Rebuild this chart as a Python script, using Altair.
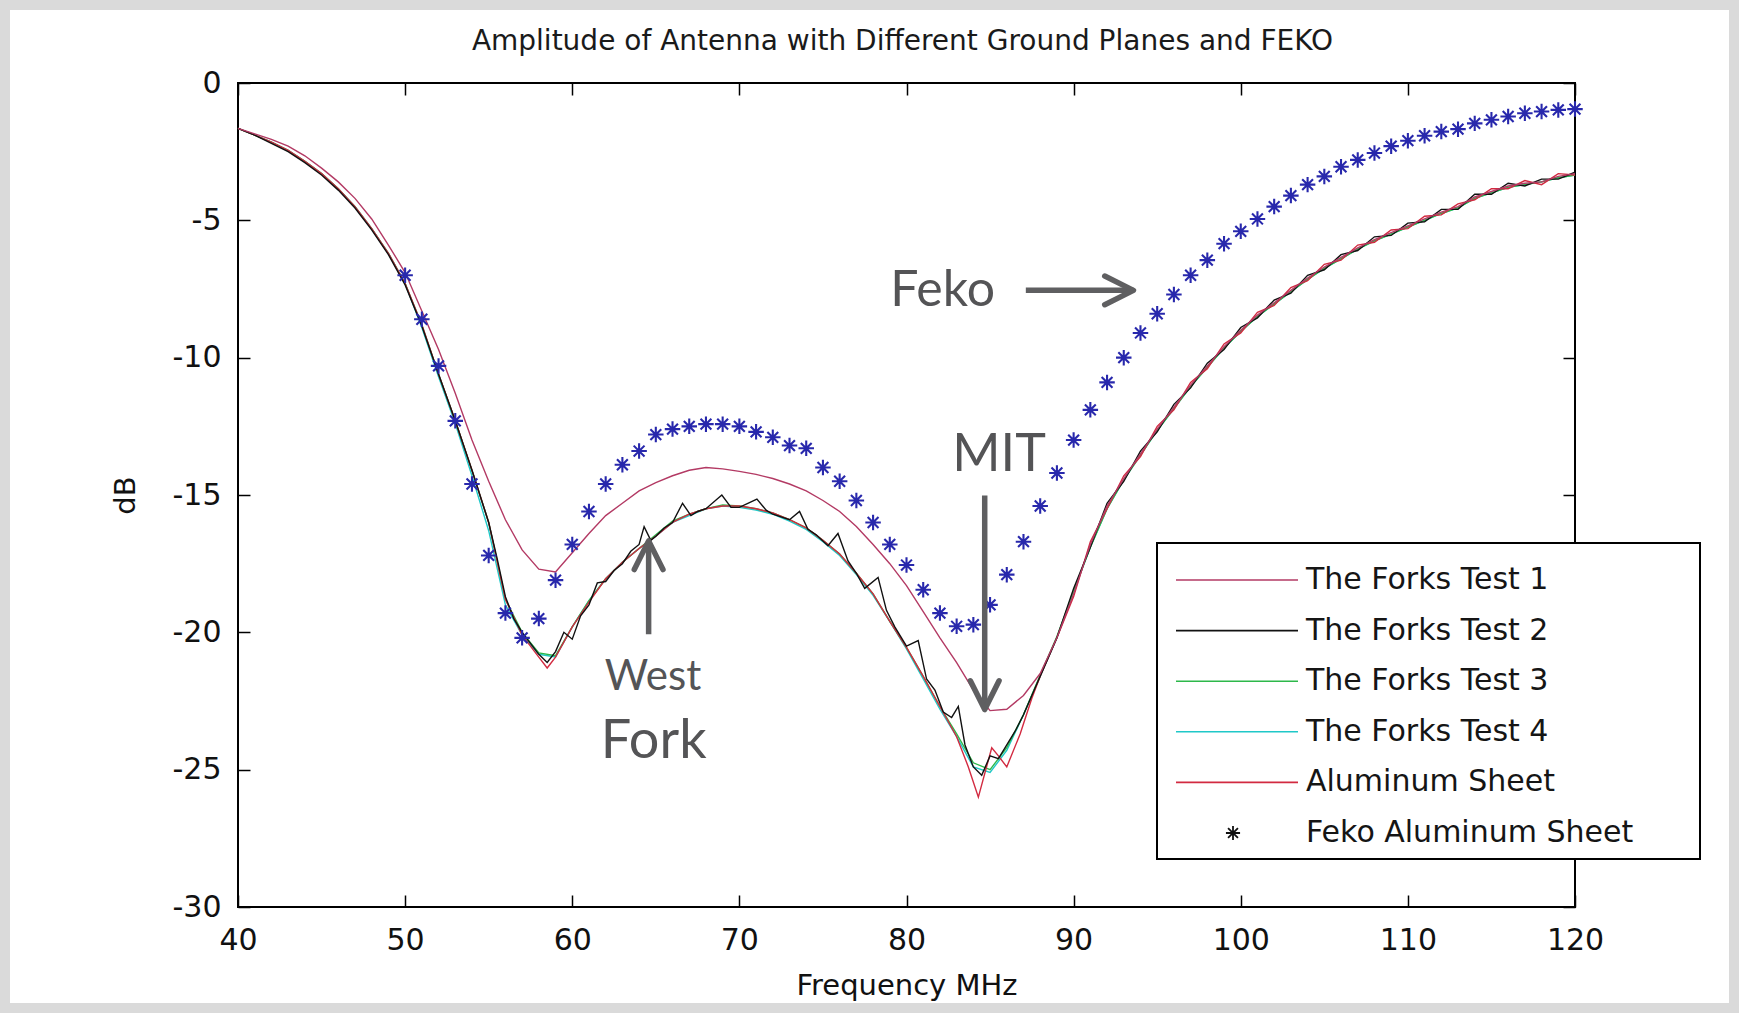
import altair as alt
import pandas as pd

# ---------------- data ----------------
freq = list(range(40, 121))

test1_db = [-1.65, -1.85, -2.05, -2.3, -2.65, -3.1, -3.6, -4.2, -4.95, -5.9,
            -6.9, -8.3, -9.7, -11.3, -13.0, -14.5, -15.9, -17.0, -17.7, -17.8,
            -17.1, -16.4, -15.75, -15.3, -14.85, -14.55, -14.3, -14.1, -14.0, -14.05,
            -14.14, -14.25, -14.4, -14.6, -14.85, -15.2, -15.6, -16.15, -16.8, -17.5,
            -18.3, -19.25, -20.2, -21.1, -22.1, -22.85, -22.8, -22.3, -21.5, -20.2,
            -18.6, -16.8, -15.4, -14.4, -13.5, -12.6, -11.8, -11.0, -10.3, -9.6,
            -9.0, -8.45, -8.0, -7.55, -7.1, -6.7, -6.35, -6.0, -5.7, -5.45,
            -5.2, -4.95, -4.7, -4.5, -4.15, -3.95, -3.75, -3.65, -3.6, -3.4, -3.3]

test3_db = [-1.65, -1.9, -2.15, -2.45, -2.85, -3.3, -3.85, -4.5, -5.3, -6.2,
            -7.3, -8.8, -10.6, -12.3, -14.1, -16.0, -18.8, -20.0, -20.75, -20.85,
            -19.8, -18.85, -18.05, -17.45, -16.95, -16.45, -15.95, -15.7, -15.5, -15.36,
            -15.4, -15.5, -15.65, -15.9, -16.2, -16.65, -17.15, -17.85, -18.6, -19.6,
            -20.55, -21.6, -22.7, -23.7, -24.75, -25.0, -24.2, -23.0, -21.55, -20.15,
            -18.5, -16.9, -15.5, -14.45, -13.55, -12.65, -11.85, -11.05, -10.35, -9.65,
            -9.05, -8.5, -8.05, -7.6, -7.15, -6.75, -6.4, -6.05, -5.75, -5.5,
            -5.25, -5.0, -4.75, -4.55, -4.2, -4.0, -3.8, -3.7, -3.6, -3.45, -3.35]

test4_db = [-1.65, -1.9, -2.15, -2.45, -2.85, -3.3, -3.85, -4.5, -5.3, -6.2,
            -7.3, -8.9, -10.7, -12.4, -14.3, -16.3, -19.0, -20.1, -20.8, -20.9,
            -19.8, -18.85, -18.05, -17.45, -16.95, -16.5, -16.0, -15.75, -15.5, -15.4,
            -15.45, -15.55, -15.7, -15.95, -16.25, -16.7, -17.2, -17.9, -18.65, -19.6,
            -20.6, -21.7, -22.8, -23.8, -24.9, -25.1, -24.3, -23.0, -21.6, -20.2,
            -18.5, -16.9, -15.5, -14.45, -13.55, -12.65, -11.85, -11.05, -10.35, -9.65,
            -9.05, -8.5, -8.05, -7.6, -7.15, -6.75, -6.4, -6.05, -5.75, -5.5,
            -5.25, -5.0, -4.75, -4.55, -4.2, -4.0, -3.8, -3.7, -3.6, -3.45, -3.35]

test2_freq = [40, 41, 42, 43, 44, 45, 46, 47, 48, 49, 50, 51, 52, 53, 54, 55, 55.5, 56, 56.5, 57,
              57.5, 58, 58.5, 59, 59.5, 60, 60.5, 61, 61.5, 62, 62.5, 63, 63.5, 64, 64.3, 64.7, 65,
              65.5, 66, 66.6, 67.1, 67.5, 68, 68.95, 69.5, 70, 71.05, 71.6, 72, 73, 73.6, 74.1, 74.6,
              75.3, 75.9, 76.5, 77, 77.5, 78.3, 78.8, 79.3, 80, 80.7, 81.2, 81.7, 82.2, 82.7, 83.1,
              83.5, 84, 84.5, 85, 85.5, 86, 86.5, 87, 87.5, 88, 88.5, 89,
              90, 91, 92, 93, 94, 95, 96, 97, 98, 99, 100, 101, 102, 103, 104, 105, 106, 107, 108,
              109, 110, 111, 112, 113, 114, 115, 116, 117, 118, 119, 120]
test2_db = [-1.65, -1.9, -2.2, -2.5, -2.9, -3.35, -3.9, -4.55, -5.35, -6.25, -7.35, -8.85, -10.6,
            -12.3, -14.1, -16.0, -17.3, -18.7, -19.5, -20.0,
            -20.4, -20.8, -21.1, -20.7, -20.0, -20.25, -19.4, -19.0, -18.2, -18.15, -17.75, -17.5,
            -17.05, -16.8, -16.15, -16.65, -16.5,
            -16.2, -16.0, -15.3, -15.75, -15.6, -15.5, -15.0, -15.45, -15.45, -15.15, -15.55, -15.7,
            -15.9, -15.6, -16.25, -16.45,
            -16.85, -16.4, -17.4, -17.85, -18.4, -18.0, -19.2, -19.8, -20.5, -20.3, -21.7, -22.1,
            -22.9, -23.1, -22.7,
            -24.1, -24.9, -25.2, -24.5, -24.6, -24.1, -23.6, -23.0, -22.3, -21.6, -20.9, -20.2,
            -18.4, -16.9, -15.3, -14.5, -13.4, -12.7, -11.7, -11.1, -10.2, -9.7, -8.9, -8.55, -7.9,
            -7.65, -7.0, -6.8, -6.25, -6.1, -5.6,
            -5.55, -5.1, -5.05, -4.6, -4.6, -4.05, -4.05, -3.65, -3.75, -3.5, -3.5, -3.25]

alu_freq = [40, 41, 42, 43, 44, 45, 46, 47, 48, 49, 50, 51, 52, 53, 54, 55, 56, 57, 58, 58.5, 59,
            60, 61, 62, 63, 64, 65, 66, 67, 68, 69, 70, 71, 72, 73, 74, 75, 76, 77, 78, 79, 80, 81,
            82, 83, 83.7, 84.3, 85.1, 85.5, 86, 86.8, 87.5, 88, 89,
            90, 91, 92, 93, 94, 95, 96, 97, 98, 99, 100, 101, 102, 103, 104, 105, 106, 107, 108,
            109, 110, 111, 112, 113, 114, 115, 116, 117, 118, 119, 120]
alu_db = [-1.65, -1.9, -2.15, -2.45, -2.85, -3.3, -3.85, -4.5, -5.3, -6.2, -7.3, -8.8, -10.6,
          -12.3, -14.1, -16.0, -18.8, -20.1, -20.9, -21.3, -20.9,
          -19.8, -18.9, -18.05, -17.45, -16.95, -16.5, -16.0, -15.7, -15.5, -15.4, -15.4, -15.5,
          -15.65, -15.9, -16.2, -16.65, -17.15, -17.85, -18.6, -19.6, -20.55, -21.6,
          -22.7, -23.8, -24.9, -26.0, -24.2, -24.5, -24.9, -23.7, -22.4, -21.6, -20.2,
          -18.7, -16.7, -15.5, -14.3, -13.6, -12.5, -11.9, -10.9, -10.4, -9.5, -9.1, -8.35, -8.1,
          -7.45, -7.2, -6.6, -6.45, -5.9, -5.8,
          -5.35, -5.3, -4.85, -4.8, -4.4, -4.25, -3.85, -3.85, -3.55, -3.7, -3.3, -3.35]

feko_freq = list(range(50, 121))
feko_db = [-7.0, -8.6, -10.3, -12.3, -14.6, -17.2, -19.3, -20.2, -19.5, -18.1,
           -16.8, -15.6, -14.6, -13.9, -13.4, -12.8, -12.6, -12.5, -12.42, -12.42,
           -12.5, -12.7, -12.9, -13.2, -13.3, -14.0, -14.5, -15.2, -16.0, -16.8,
           -17.55, -18.45, -19.3, -19.78, -19.72, -19.0, -17.9, -16.7, -15.4, -14.2,
           -13.0, -11.9, -10.9, -10.0, -9.1, -8.4, -7.7, -7.0, -6.45, -5.85,
           -5.4, -4.95, -4.5, -4.1, -3.7, -3.4, -3.05, -2.8, -2.55, -2.3,
           -2.1, -1.92, -1.77, -1.68, -1.47, -1.34, -1.22, -1.1, -1.04, -0.98, -0.95]

series_names = ["The Forks Test 1", "The Forks Test 2", "The Forks Test 3",
                "The Forks Test 4", "Aluminum Sheet", "Feko Aluminum Sheet"]
series_colors = ["#b33a64", "#111111", "#2db84a", "#1fc8c8", "#d22a40", "#2828ac"]

x_ticks = [40, 50, 60, 70, 80, 90, 100, 110, 120]
y_ticks = [-30, -25, -20, -15, -10, -5, 0]

chart_title = "Amplitude of Antenna with Different Ground Planes and FEKO"

# annotations
ann_text = ["Feko", "MIT", "West", "Fork"]
ann_f = [82.16, 85.54, 64.83, 64.87]
ann_db = [-7.56, -13.54, -21.62, -23.98]
ann_size = [50, 52, 42, 54]

arrow_f1 = [87.14, 84.68, 64.57]
arrow_db1 = [-7.55, -15.02, -20.07]
arrow_f2 = [93.58, 84.68, 64.57]
arrow_db2 = [-7.55, -22.81, -16.67]
arrow_angle = [0, 90, 270]

# ---------------- tables ----------------
def series_df(name, f, d):
    return pd.DataFrame({"f": f, "db": d, "series": name})

line_tables = {
    "The Forks Test 4": series_df("The Forks Test 4", freq, test4_db),
    "The Forks Test 3": series_df("The Forks Test 3", freq, test3_db),
    "Aluminum Sheet": series_df("Aluminum Sheet", alu_freq, alu_db),
    "The Forks Test 2": series_df("The Forks Test 2", test2_freq, test2_db),
    "The Forks Test 1": series_df("The Forks Test 1", freq, test1_db),
}
feko_df = series_df("Feko Aluminum Sheet", feko_freq, feko_db)
ann_df = pd.DataFrame({"t": ann_text, "f": ann_f, "db": ann_db, "sz": ann_size})
arrow_df = pd.DataFrame({"f1": arrow_f1, "d1": arrow_db1, "f2": arrow_f2,
                         "d2": arrow_db2, "ang": arrow_angle})
legend_df = pd.DataFrame({"label": series_names, "col": series_colors,
                          "idx": list(range(len(series_names)))})
one_df = pd.DataFrame({"k": [0]})
title_df = pd.DataFrame({"t": [chart_title]})

color_of = dict(zip(series_names, series_colors))

W, H = 1337, 824
FONT = "DejaVu Sans"
xs = alt.Scale(domain=[40, 120], nice=False, zero=False)
ys = alt.Scale(domain=[-30, 0], nice=False, zero=False)

STAR = "M0,-1L0,1M-1,0L1,0M-0.7,-0.7L0.7,0.7M-0.7,0.7L0.7,-0.7"
CHEVRON = "M-1,-0.5L0,0L-1,0.5"

tick_common = dict(labels=False, domain=False, ticks=True, tickSize=12, tickColor="black",
                   tickWidth=1.5, grid=False, title=None)

# page border
border = alt.Chart(one_df).mark_rect(fill="transparent", stroke="#dadada", strokeWidth=20).encode(
    x=alt.value(-238), x2=alt.value(1501), y=alt.value(-83), y2=alt.value(930))

title_mark = alt.Chart(title_df).mark_text(font=FONT, fontSize=28, color="#1a1a1a",
                                           align="center", baseline="middle").encode(
    x=alt.value(W / 2 - 4), y=alt.value(-41), text="t:N")

layers = [border, title_mark]
first = True
for name, df in line_tables.items():
    if first:
        xenc = alt.X("f:Q", scale=xs, axis=alt.Axis(
            orient="bottom", values=x_ticks, ticks=False, domain=False, grid=False,
            labelFontSize=30, labelPadding=18, labelFlush=False,
            labelExpr="toString(datum.value)",
            title="Frequency MHz", titleFontSize=29, titlePadding=16))
        yenc = alt.Y("db:Q", scale=ys, axis=alt.Axis(
            orient="left", values=y_ticks, ticks=False, domain=False, grid=False,
            labelFontSize=30, labelPadding=17, labelFlush=False,
            labelExpr="toString(datum.value)",
            title="dB", titleFontSize=29, titlePadding=32))
        first = False
    else:
        xenc = alt.X("f:Q", scale=xs, axis=None)
        yenc = alt.Y("db:Q", scale=ys, axis=None)
    layers.append(alt.Chart(df).mark_line(strokeWidth=1.4, color=color_of[name]).encode(
        x=xenc, y=yenc))

feko = alt.Chart(feko_df).mark_point(shape=STAR, size=240, filled=False, strokeWidth=2.1,
                                     color=color_of["Feko Aluminum Sheet"], opacity=1).encode(
    x=alt.X("f:Q", scale=xs, axis=alt.Axis(orient="top", offset=-H, values=x_ticks, **tick_common)),
    y=alt.Y("db:Q", scale=ys, axis=alt.Axis(orient="right", offset=-W, values=y_ticks, **tick_common)))
layers.append(feko)

arrows = alt.Chart(arrow_df).mark_rule(strokeWidth=5.5, color="#5f5f61").encode(
    x=alt.X("f1:Q", scale=xs, axis=None), x2="f2:Q",
    y=alt.Y("d1:Q", scale=ys, axis=None), y2="d2:Q")
heads = alt.Chart(arrow_df).mark_point(shape=CHEVRON, size=3300, filled=False, strokeWidth=5.5,
                                       color="#5f5f61", opacity=1, strokeJoin="round",
                                       strokeCap="round").encode(
    x=alt.X("f2:Q", scale=xs, axis=None),
    y=alt.Y("d2:Q", scale=ys, axis=None),
    angle=alt.Angle("ang:Q", scale=None))
texts = alt.Chart(ann_df).mark_text(font="Lato", color="#545456", align="center",
                                    baseline="middle").encode(
    x=alt.X("f:Q", scale=xs, axis=alt.Axis(orient="bottom", offset=-H, values=x_ticks, **tick_common)),
    y=alt.Y("db:Q", scale=ys, axis=alt.Axis(orient="left", offset=-W, values=y_ticks, **tick_common)),
    text="t:N",
    size=alt.Size("sz:Q", scale=None))
layers += [arrows, heads, texts]

# legend (drawn by hand, MATLAB style)
leg_box = alt.Chart(one_df).mark_rect(fill="white", stroke="black", strokeWidth=2).encode(
    x=alt.value(919), x2=alt.value(1462), y=alt.value(460), y2=alt.value(776))
leg_base = alt.Chart(legend_df).transform_calculate(py="datum.idx * 50.6 + 497")
leg_lines = leg_base.transform_filter("datum.idx < 5").mark_rule(strokeWidth=1.6).encode(
    x=alt.value(938), x2=alt.value(1060),
    y=alt.Y("py:Q", scale=None, axis=None),
    color=alt.Color("col:N", scale=None))
leg_star = leg_base.transform_filter("datum.idx == 5").mark_point(
    shape=STAR, size=200, filled=False, strokeWidth=1.8, color="#111111", opacity=1).encode(
    x=alt.value(995), y=alt.Y("py:Q", scale=None, axis=None))
leg_text = leg_base.mark_text(font=FONT, fontSize=30, align="left", baseline="middle",
                              color="#151515").encode(
    x=alt.value(1068), y=alt.Y("py:Q", scale=None, axis=None), text="label:N")
layers += [leg_box, leg_lines, leg_star, leg_text]

chart = alt.layer(*layers).properties(
    width=W, height=H,
    autosize=alt.AutoSizeParams(type="none"),
    padding={"left": 238, "top": 83, "right": 164, "bottom": 106},
    background="white",
).resolve_axis(x="independent", y="independent").configure_view(
    stroke="black", strokeWidth=2
).configure_axis(
    labelFont=FONT, titleFont=FONT, labelColor="#111111", titleColor="#111111",
    titleFontWeight="normal"
)

chart.save("out.html", embed_options={"renderer": "svg", "actions": False})
